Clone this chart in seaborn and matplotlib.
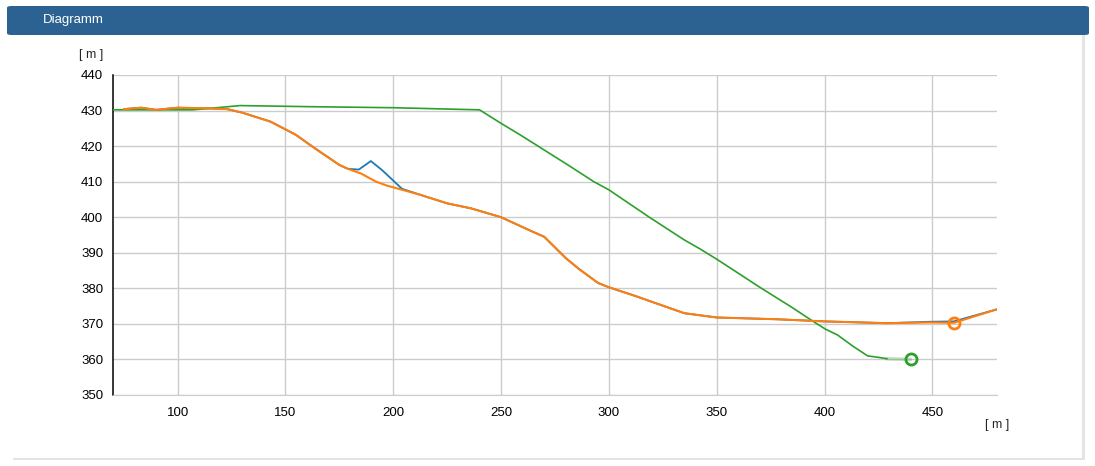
import matplotlib
matplotlib.use("Agg")
import matplotlib.pyplot as plt
from matplotlib.patches import FancyBboxPatch, Rectangle
import pandas as pd
import seaborn as sns

# profile data (distance [m], height [m])
orange_x = [75, 83, 90, 100, 115, 123, 130, 143, 150, 155, 161, 166, 175, 179, 185, 192, 197, 203,
            212, 225, 236, 250, 264, 270, 280, 286, 295, 300, 312, 335, 350, 378, 400, 429, 449, 460, 480]
orange_y = [430.4, 430.8, 430.2, 430.8, 430.6, 430.4, 429.4, 426.9, 424.7, 423.1, 420.5, 418.4, 414.7,
            413.6, 412.3, 410.0, 408.9, 407.9, 406.4, 403.9, 402.5, 400.0, 396.1, 394.5, 388.5, 385.5,
            381.5, 380.3, 377.9, 373.0, 371.8, 371.3, 370.7, 370.2, 370.4, 370.3, 374.1]

blue_x = [75, 83, 90, 100, 115, 123, 130, 143, 150, 155, 161, 166, 175, 179, 184, 189.6, 194.7, 200,
          204, 212, 225, 236, 250, 264, 270, 280, 286, 295, 300, 312, 335, 350, 378, 400, 429, 449, 460, 480]
blue_y = [430.4, 430.8, 430.2, 430.8, 430.6, 430.4, 429.4, 426.9, 424.7, 423.1, 420.5, 418.4, 414.7,
          413.6, 413.4, 415.8, 413.3, 410.3, 408.0, 406.4, 403.9, 402.5, 400.0, 396.1, 394.5, 388.5,
          385.5, 381.5, 380.3, 377.9, 373.0, 371.8, 371.3, 370.7, 370.2, 370.6, 370.7, 374.1]

green_x = [70, 107, 120, 129, 160, 200, 240, 250, 259, 270, 281, 293, 300, 319, 335, 342.5, 350, 370,
           385, 395, 400.5, 406, 413, 420, 426, 429]
green_y = [430.2, 430.2, 430.9, 431.4, 431.1, 430.8, 430.2, 426.4, 423.1, 418.9, 414.7, 410.0, 407.7,
           399.9, 393.6, 391.0, 388.2, 380.3, 374.6, 370.6, 368.5, 366.9, 363.8, 361.0, 360.5, 360.2]
green_tail_x = [429, 440]
green_tail_y = [360.2, 360.0]

orange_mark = (460, 370.3)
green_mark = (440, 360.0)

x_ticks = [100, 150, 200, 250, 300, 350, 400, 450]
y_ticks = [350, 360, 370, 380, 390, 400, 410, 420, 430, 440]

sns.set_style("white")
plt.rcParams['font.family'] = ['Liberation Sans', 'DejaVu Sans']

fig = plt.figure(figsize=(10.95, 4.66), dpi=100)
fig.patch.set_facecolor("white")
W, H = 1095, 466

# card with shadow and blue header
fig.patches.append(Rectangle((13 / W, 6 / H), 1072 / W, 454 / H, transform=fig.transFigure,
                             facecolor="#e4e4e4", edgecolor="none", zorder=-3))
fig.patches.append(Rectangle((12 / W, 8 / H), 1070 / W, 452 / H, transform=fig.transFigure,
                             facecolor="white", edgecolor="none", zorder=-2))
fig.patches.append(FancyBboxPatch((7 / W, (H - 35) / H), 1082 / W, 29 / H, transform=fig.transFigure,
                                  boxstyle="round,pad=0,rounding_size=0.004", facecolor="#2c6292",
                                  edgecolor="none", zorder=-1))
fig.text(43 / W, 1 - 20 / H, "Diagramm", color="white", fontsize=9.5, va="center", ha="left")

ax = fig.add_axes([113 / W, 1 - 395 / H, (997 - 113) / W, (395 - 75) / H])
ax.set_zorder(5)
ax.set_facecolor("none")

df_blue = pd.DataFrame({"x": blue_x, "y": blue_y})
df_orange = pd.DataFrame({"x": orange_x, "y": orange_y})
df_green = pd.DataFrame({"x": green_x, "y": green_y})
df_tail = pd.DataFrame({"x": green_tail_x, "y": green_tail_y})

sns.lineplot(data=df_blue, x="x", y="y", ax=ax, color="#1f77b4", lw=1.3, sort=False, zorder=3)
sns.lineplot(data=df_orange, x="x", y="y", ax=ax, color="#ff7f0e", lw=1.5, sort=False, zorder=4)
sns.lineplot(data=df_green, x="x", y="y", ax=ax, color="#2ca02c", lw=1.2, sort=False, zorder=3)
sns.lineplot(data=df_tail, x="x", y="y", ax=ax, color="#2ca02c", lw=2.5, alpha=0.3, sort=False, zorder=3)

ax.plot(*orange_mark, "o", ms=8, mfc="none", mec="#ff7f0e", mew=2, zorder=5)
ax.plot(*green_mark, "o", ms=8, mfc="none", mec="#2ca02c", mew=2, zorder=5)

ax.set_xlim(70, 480)
ax.set_ylim(350, 440)
ax.set_xticks(x_ticks)
ax.set_xticks([70, 480], minor=True)
ax.set_yticks(y_ticks)
ax.set_xlabel("")
ax.set_ylabel("")
ax.grid(True, which="major", color="#cccccc", lw=1)
ax.set_axisbelow(True)

for s in ["top", "right"]:
    ax.spines[s].set_visible(False)
ax.spines["bottom"].set_color("#cccccc")
ax.spines["left"].set_color("black")
ax.spines["left"].set_linewidth(1.1)
ax.tick_params(axis="both", which="both", direction="out", length=5, width=1, color="black",
               labelsize=9.5, labelcolor="black")
ax.tick_params(axis="x", pad=4)
ax.tick_params(axis="y", pad=2)

fig.text(91 / W, 1 - 55 / H, "[ m ]", fontsize=9, ha="center", va="center")
fig.text(997 / W, 1 - 425 / H, "[ m ]", fontsize=9, ha="center", va="center")

fig.savefig("out.png", dpi=100)
